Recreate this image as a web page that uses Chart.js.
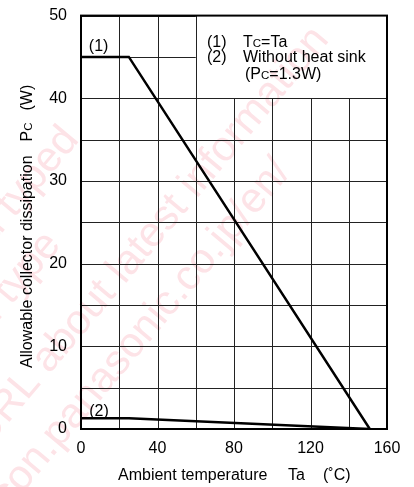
<!DOCTYPE html>
<html>
<head>
<meta charset="utf-8">
<script src="https://cdn.jsdelivr.net/npm/chart.js@4.4.1/dist/chart.umd.min.js"></script>
<style>
  body { margin: 0; background: #fff; }
  canvas { display: block; }
</style>
</head>
<body>
<canvas id="deratingChart" width="414" height="487"></canvas>
<script>
// derating curves
const tempWithCase = [0, 25, 151];
const powerWithCase = [45, 45, 0];
const tempNoSink = [0, 25, 151];
const powerNoSink = [1.3, 1.3, 0];

const xTickLabels = [0, 40, 80, 120, 160];
const yTickLabels = [0, 10, 20, 30, 40, 50];

const FONT = '"Liberation Sans", Arial, sans-serif';

function toPoints(xs, ys) {
    return xs.map((x, i) => ({ x: x, y: ys[i] }));
}

// draws text pieces in a row, small=true pieces are the small-cap "C"
function drawRich(ctx, parts, x, y, size) {
    let cx = x;
    parts.forEach(p => {
      const s = p.small ? size * 0.72 : size;
      ctx.font = s + 'px ' + FONT;
      ctx.fillText(p.t, cx, y);
      cx += ctx.measureText(p.t).width;
    });
    return cx - x;
}

// faint pink datasheet watermark, drawn first so the chart sits on top
const watermarkLines = [
    { t: 'planed discontinued typed', x: 80, y: 140 },
    { t: 'discontinued type', x: 62, y: 245 },
    { t: 'Please visit following URL about latest information', x: 330, y: 40 },
    { t: 'http://www.semicon.panasonic.co.jp/en/', x: 292, y: 172 }
];
const watermark = {
    id: 'watermark',
    beforeDraw(chart) {
      const ctx = chart.ctx;
      ctx.save();
      ctx.fillStyle = '#fff';
      ctx.fillRect(0, 0, chart.width, chart.height);
      ctx.fillStyle = '#fde3e7';
      ctx.font = '42px ' + FONT;
      ctx.textAlign = 'right';
      ctx.textBaseline = 'alphabetic';
      watermarkLines.forEach(l => {
        ctx.save();
        ctx.translate(l.x, l.y);
        ctx.rotate(-50 * Math.PI / 180);
        ctx.fillText(l.t, 0, 0);
        ctx.restore();
      });
      ctx.restore();
    }
};

// plain grid + frame, with the top-right legend corner left open
const gridFrame = {
    id: 'gridFrame',
    beforeDatasetsDraw(chart) {
      const { ctx, chartArea: a, scales: { x, y } } = chart;
      const boxL = x.getPixelForValue(60);
      const boxB = y.getPixelForValue(40);
      ctx.save();
      ctx.strokeStyle = '#222';
      ctx.lineWidth = 1;
      x.ticks.forEach(t => {
        const px = Math.round(x.getPixelForValue(t.value)) + 0.5;
        const top = px > boxL + 1 ? boxB : a.top;
        ctx.beginPath();
        ctx.moveTo(px, top);
        ctx.lineTo(px, a.bottom);
        ctx.stroke();
      });
      y.ticks.forEach(t => {
        const py = Math.round(y.getPixelForValue(t.value)) + 0.5;
        const right = py < boxB - 1 ? boxL : a.right;
        ctx.beginPath();
        ctx.moveTo(a.left, py);
        ctx.lineTo(right, py);
        ctx.stroke();
      });
      ctx.strokeStyle = '#000';
      ctx.lineWidth = 2;
      ctx.strokeRect(a.left, a.top, a.right - a.left, a.bottom - a.top);
      ctx.restore();
    }
};

const annotations = {
    id: 'annotations',
    afterDatasetsDraw(chart) {
      const { ctx, scales: { x, y } } = chart;
      ctx.save();
      ctx.fillStyle = '#000';
      ctx.textBaseline = 'alphabetic';

      // curve labels
      ctx.font = '16px ' + FONT;
      ctx.textAlign = 'center';
      ctx.fillText('(1)', x.getPixelForValue(9.2), y.getPixelForValue(45.7));
      ctx.fillText('(2)', x.getPixelForValue(9.4), y.getPixelForValue(1.6));

      // legend text
      ctx.textAlign = 'left';
      ctx.fillText('(1)', 207, 47);
      ctx.fillText('(2)', 207, 62);
      drawRich(ctx, [{ t: 'T' }, { t: 'C', small: true }, { t: '=Ta' }], 243, 47, 16);
      drawRich(ctx, [{ t: 'Without heat sink' }], 243, 62, 16);
      drawRich(ctx, [{ t: '(P' }, { t: 'C', small: true }, { t: '=1.3W)' }], 245, 79, 16);

      // x axis title
      ctx.font = '16px ' + FONT;
      ctx.fillText('Ambient temperature', 118, 480);
      ctx.fillText('Ta', 288, 480);
      ctx.fillText('(\u02DAC)', 323, 480);

      // y axis title, rotated
      ctx.translate(32, 368);
      ctx.rotate(-Math.PI / 2);
      let w = drawRich(ctx, [{ t: 'Allowable collector dissipation' }], 0, 0, 16);
      w += 14;
      w += drawRich(ctx, [{ t: 'P' }, { t: 'C', small: true }], w, 0, 16);
      w += 12;
      drawRich(ctx, [{ t: '(W)' }], w, 0, 16);
      ctx.restore();
    }
};

const ctx = document.getElementById('deratingChart').getContext('2d');
const chart = new Chart(ctx, {
    type: 'scatter',
    data: {
      datasets: [{
        label: '(1) Tc=Ta',
        data: toPoints(tempWithCase, powerWithCase),
        showLine: true,
        borderColor: '#000',
        borderWidth: 2.5,
        pointRadius: 0
      }, {
        label: '(2) Without heat sink',
        data: toPoints(tempNoSink, powerNoSink),
        showLine: true,
        borderColor: '#000',
        borderWidth: 2.5,
        pointRadius: 0
      }]
    },
    options: {
      responsive: false,
      animation: false,
      layout: { padding: { top: 15, right: 27, left: 0, bottom: 0 } },
      plugins: {
        legend: { display: false },
        tooltip: { enabled: false }
      },
      scales: {
        x: {
          type: 'linear',
          min: 0,
          max: 160,
          afterFit: scale => { scale.height = 58; },
          ticks: {
            stepSize: 20,
            padding: 2,
            color: '#000',
            font: { family: FONT, size: 16 },
            maxRotation: 0,
            autoSkip: false,
            callback: v => xTickLabels.includes(v) ? v : ''
          },
          grid: { display: false },
          border: { display: false }
        },
        y: {
          min: 0,
          max: 50,
          afterFit: scale => { scale.width = 81; },
          ticks: {
            stepSize: 5,
            padding: 6,
            color: '#000',
            font: { family: FONT, size: 16 },
            autoSkip: false,
            callback: v => yTickLabels.includes(v) ? v : ''
          },
          grid: { display: false },
          border: { display: false }
        }
      }
    },
    plugins: [watermark, gridFrame, annotations]
});
</script>
</body>
</html>
